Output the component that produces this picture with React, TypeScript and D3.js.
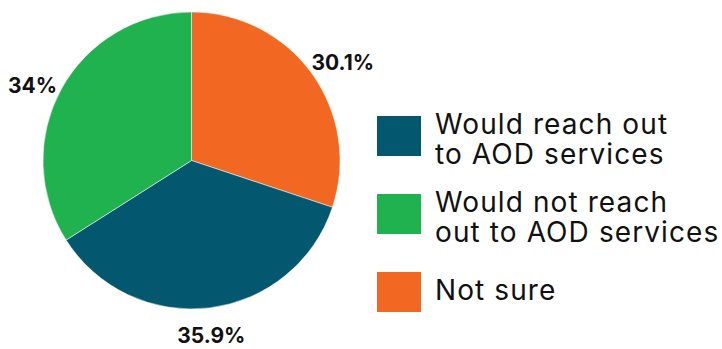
import React from "react";
import * as d3 from "d3";

const categories = ["Not sure", "Would reach out to AOD services", "Would not reach out to AOD services"];
const values = [30.1, 35.9, 34];
const valueLabels = ["30.1%", "35.9%", "34%"];
const colors = ["#F26722", "#03586F", "#1FB24E"];
const legendOrder = [1, 2, 0];
const legendLines = [["Would reach out", "to AOD services"], ["Would not reach", "out to AOD services"], ["Not sure"]];

export default function App() {
  const W = 722, H = 349;
  const cx = 191.5, cy = 160.5, R = 148.5, LR = 178;
  const labelNudge = [[7, 6], [-2, -2], [-3, 11]];
  const pie = d3.pie<number>().sort(null).value((d) => d)(values);
  const arc = d3.arc<d3.PieArcDatum<number>>().innerRadius(0).outerRadius(R);
  const font = "Inter, 'Open Sans', sans-serif";
  const legendY = d3.scaleLinear().domain([0, 1]).range([116, 194]);
  return (
    <svg width={W} height={H} style={{ position: "absolute", left: 0, top: 0 }}>
      <rect width={W} height={H} fill="#fff" />
      <g transform={`translate(${cx},${cy})`}>
        {pie.map((p, i) => (
          <path key={i} d={arc(p) || ""} fill={colors[i]} stroke="#fff" strokeWidth={0.5} />
        ))}
        {pie.map((p, i) => {
          const a = (p.startAngle + p.endAngle) / 2;
          const x = Math.sin(a) * LR + labelNudge[i][0];
          const y = -Math.cos(a) * LR + labelNudge[i][1];
          return (
            <text key={i} x={x} y={y} textAnchor="middle" dominantBaseline="central"
              fontFamily={font} fontWeight={700} fontSize={21} fill="#111">
              {valueLabels[i]}
            </text>
          );
        })}
      </g>
      {legendOrder.map((idx, k) => {
        const y0 = legendY(k);
        const lines = legendLines[k];
        return (
          <g key={k}>
            <rect x={377} y={y0} width={44} height={40} fill={colors[idx]} />
            <text fontFamily={font} fontSize={28} letterSpacing={1.1} fill="#111">
              {lines.map((ln, j) => (
                <tspan key={j} x={435} y={lines.length === 1 ? y0 + 27.5 : y0 + 17.5 + j * 30.5}>
                  {ln}
                </tspan>
              ))}
            </text>
          </g>
        );
      })}
    </svg>
  );
}
